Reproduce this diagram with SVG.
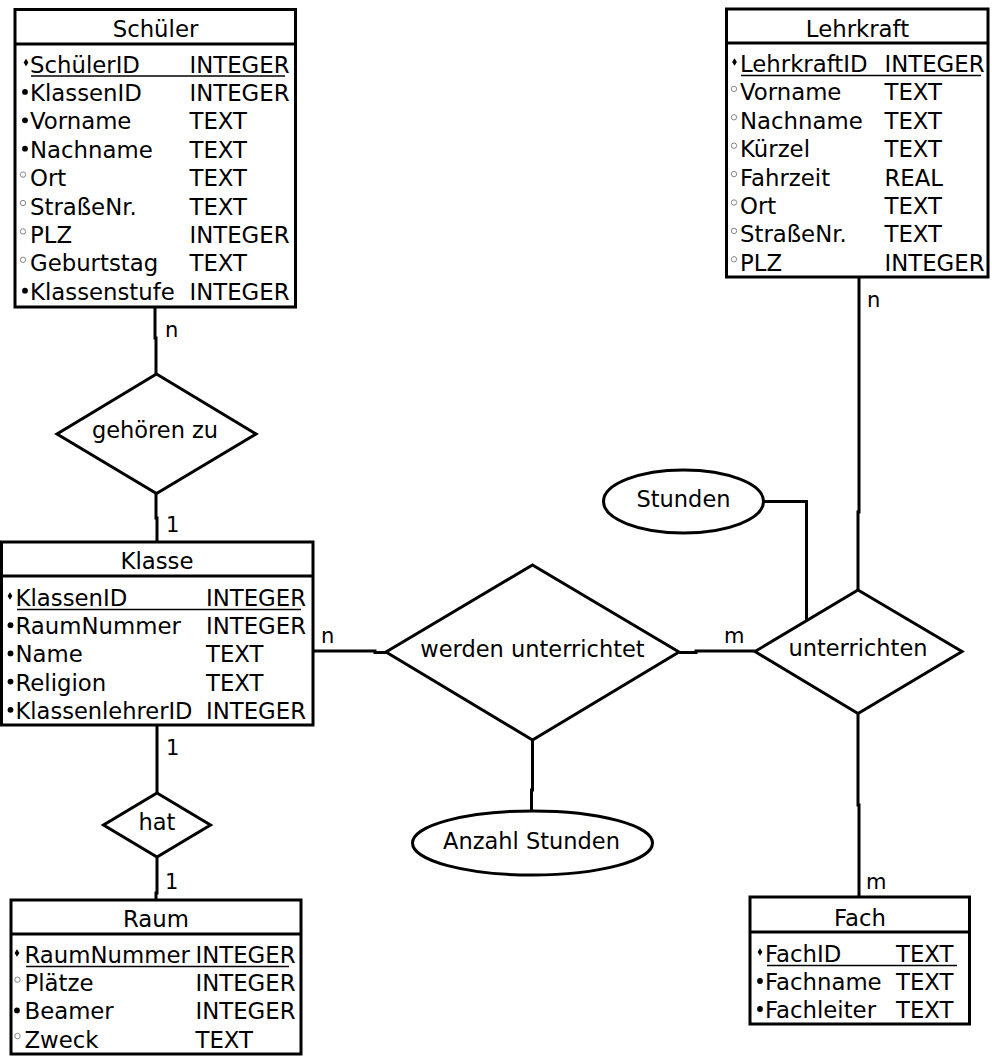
<svg xmlns="http://www.w3.org/2000/svg" xmlns:xlink="http://www.w3.org/1999/xlink" width="992" height="1063" viewBox="0 0 992 1063">
<style>
text{font-family:"DejaVu Sans","Liberation Sans",sans-serif;font-size:22.8px;fill:#000}
.c{text-anchor:middle}
.s{font-size:22.5px}
.lbl{font-size:21px}
.box{fill:#fff;stroke:#000;stroke-width:3}
.div{stroke:#000;stroke-width:3}
.ul{stroke:#000;stroke-width:1.6}
.shape{fill:#fff;stroke:#000;stroke-width:3}
.conn path{fill:none;stroke:#000;stroke-width:3}
</style>
<defs>
<path id="k" d="M0,-3.8 L2.4,0 L0,3.8 L-2.4,0Z" fill="#000"/>
<circle id="d" r="2.9" fill="#000"/>
<circle id="o" r="2.7" fill="none" stroke="#888" stroke-width="1"/>
</defs>
<rect width="992" height="1063" fill="#fff"/>

<g class="conn" id="connectors">
<path d="M155,307 V338 H156 V374"/>
<path d="M156,493 V518 H157 V542"/>
<path d="M157,725 V793"/>
<path d="M157,857 V893 H156 V900"/>
<path d="M313,651 H375 V652.5 H386"/>
<path d="M679,652.5 H696 V651 H755"/>
<path d="M859,277 V512 H858 V590"/>
<path d="M858,713 V805 H859 V897"/>
<path d="M532.5,740 V790 H531.5 V811"/>
<path d="M763,501.5 H806.5 V621"/>
<text class="lbl" x="165" y="337">n</text>
<text class="lbl" x="166" y="532">1</text>
<text class="lbl" x="166" y="755">1</text>
<text class="lbl" x="165" y="889">1</text>
<text class="lbl" x="321" y="643">n</text>
<text class="lbl" x="724" y="643">m</text>
<text class="lbl" x="867" y="307">n</text>
<text class="lbl" x="866" y="889">m</text>
</g>

<g id="schueler">
<rect class="box" x="15" y="9.5" width="280.5" height="297.5"/>
<line class="div" x1="15" y1="44" x2="295.5" y2="44"/>
<text class="c" x="155.5" y="37">Schüler</text>
<use href="#k" x="26" y="62.5"/><text x="30" y="72.5">SchülerID</text><text x="189.5" y="72.5">INTEGER</text>
<line class="ul" x1="31" y1="76" x2="285" y2="76"/>
<use href="#d" x="25" y="91.9"/><text x="30" y="100.9">KlassenID</text><text x="189.5" y="100.9">INTEGER</text>
<use href="#d" x="25" y="120.3"/><text x="30" y="129.3">Vorname</text><text x="189.5" y="129.3">TEXT</text>
<use href="#d" x="25" y="148.7"/><text x="30" y="157.7">Nachname</text><text x="189.5" y="157.7">TEXT</text>
<use href="#o" x="23" y="174.6"/><text x="30" y="186.1">Ort</text><text x="189.5" y="186.1">TEXT</text>
<use href="#o" x="23" y="203"/><text x="30" y="214.5">StraßeNr.</text><text x="189.5" y="214.5">TEXT</text>
<use href="#o" x="23" y="231.4"/><text x="30" y="242.9">PLZ</text><text x="189.5" y="242.9">INTEGER</text>
<use href="#o" x="23" y="259.8"/><text x="30" y="271.3">Geburtstag</text><text x="189.5" y="271.3">TEXT</text>
<use href="#d" x="25" y="290.7"/><text x="30" y="299.7">Klassenstufe</text><text x="189.5" y="299.7">INTEGER</text>
</g>

<g id="lehrkraft">
<rect class="box" x="726.5" y="9" width="261.5" height="268"/>
<line class="div" x1="726.5" y1="43" x2="988" y2="43"/>
<text class="c" x="857.5" y="37">Lehrkraft</text>
<use href="#k" x="734.5" y="62"/><text x="740" y="72">LehrkraftID</text><text x="884.5" y="72">INTEGER</text>
<line class="ul" x1="741" y1="75.5" x2="981" y2="75.5"/>
<use href="#o" x="734" y="88.9"/><text x="740" y="100.4">Vorname</text><text x="884.5" y="100.4">TEXT</text>
<use href="#o" x="734" y="117.3"/><text x="740" y="128.8">Nachname</text><text x="884.5" y="128.8">TEXT</text>
<use href="#o" x="734" y="145.7"/><text x="740" y="157.2">Kürzel</text><text x="884.5" y="157.2">TEXT</text>
<use href="#o" x="734" y="174.1"/><text x="740" y="185.6">Fahrzeit</text><text x="884.5" y="185.6">REAL</text>
<use href="#o" x="734" y="202.5"/><text x="740" y="214">Ort</text><text x="884.5" y="214">TEXT</text>
<use href="#o" x="734" y="230.9"/><text x="740" y="242.4">StraßeNr.</text><text x="884.5" y="242.4">TEXT</text>
<use href="#o" x="734" y="259.3"/><text x="740" y="270.8">PLZ</text><text x="884.5" y="270.8">INTEGER</text>
</g>

<g id="klasse">
<rect class="box" x="1.5" y="542" width="311.5" height="183"/>
<line class="div" x1="1.5" y1="576" x2="313" y2="576"/>
<text class="c" x="157" y="569">Klasse</text>
<use href="#k" x="10" y="596"/><text x="15.5" y="606">KlassenID</text><text x="206" y="606">INTEGER</text>
<line class="ul" x1="17" y1="609.5" x2="301" y2="609.5"/>
<use href="#d" x="10.5" y="625.2"/><text x="15.5" y="634.2">RaumNummer</text><text x="206" y="634.2">INTEGER</text>
<use href="#d" x="10.5" y="653.4"/><text x="15.5" y="662.4">Name</text><text x="206" y="662.4">TEXT</text>
<use href="#d" x="10.5" y="681.6"/><text x="15.5" y="690.6">Religion</text><text x="206" y="690.6">TEXT</text>
<use href="#d" x="10.5" y="709.8"/><text x="15.5" y="718.8" textLength="177" lengthAdjust="spacingAndGlyphs">KlassenlehrerID</text><text x="206" y="718.8">INTEGER</text>
</g>

<g id="raum">
<rect class="box" x="11" y="900" width="290" height="154"/>
<line class="div" x1="11" y1="934" x2="301" y2="934"/>
<text class="c" x="156" y="927">Raum</text>
<use href="#k" x="17" y="953"/><text x="24.5" y="963">RaumNummer</text><text x="195.5" y="963">INTEGER</text>
<line class="ul" x1="26" y1="966.5" x2="289" y2="966.5"/>
<use href="#o" x="17.5" y="979.7"/><text x="24.5" y="991.2">Plätze</text><text x="195.5" y="991.2">INTEGER</text>
<use href="#d" x="17" y="1010.4"/><text x="24.5" y="1019.4">Beamer</text><text x="195.5" y="1019.4">INTEGER</text>
<use href="#o" x="17.5" y="1036.1"/><text x="24.5" y="1047.6">Zweck</text><text x="195.5" y="1047.6">TEXT</text>
</g>

<g id="fach">
<rect class="box" x="750" y="897" width="219.5" height="127"/>
<line class="div" x1="750" y1="932" x2="969.5" y2="932"/>
<text class="c" x="860" y="926">Fach</text>
<use href="#k" x="760" y="952"/><text x="765" y="962">FachID</text><text x="896" y="962">TEXT</text>
<line class="ul" x1="767" y1="965.5" x2="957" y2="965.5"/>
<use href="#d" x="760" y="981"/><text x="765" y="990">Fachname</text><text x="896" y="990">TEXT</text>
<use href="#d" x="760" y="1009"/><text x="765" y="1018">Fachleiter</text><text x="896" y="1018">TEXT</text>
</g>

<g id="gehoeren_zu">
<polygon class="shape" points="156.5,374 256,434 156.5,493.5 57,434"/>
<text class="c s" x="155" y="438">gehören zu</text>
</g>

<g id="hat">
<polygon class="shape" points="157,793 210.5,825 157,857 103.5,825"/>
<text class="c s" x="157" y="830">hat</text>
</g>

<g id="werden_unterrichtet">
<polygon class="shape" points="532.5,565 679,652 532.5,740 386,652"/>
<text class="c s" x="532.5" y="656.5">werden unterrichtet</text>
</g>

<g id="unterrichten">
<polygon class="shape" points="858,590 962,651.5 858,713.5 755,651.5"/>
<text class="c s" x="858" y="656">unterrichten</text>
</g>

<g id="stunden">
<ellipse class="shape" cx="683.5" cy="501.5" rx="80" ry="31.5"/>
<text class="c s" x="683.5" y="507">Stunden</text>
</g>

<g id="anzahl_stunden">
<ellipse class="shape" cx="532.5" cy="843" rx="120" ry="32"/>
<text class="c s" x="531.5" y="848.5">Anzahl Stunden</text>
</g>
</svg>
